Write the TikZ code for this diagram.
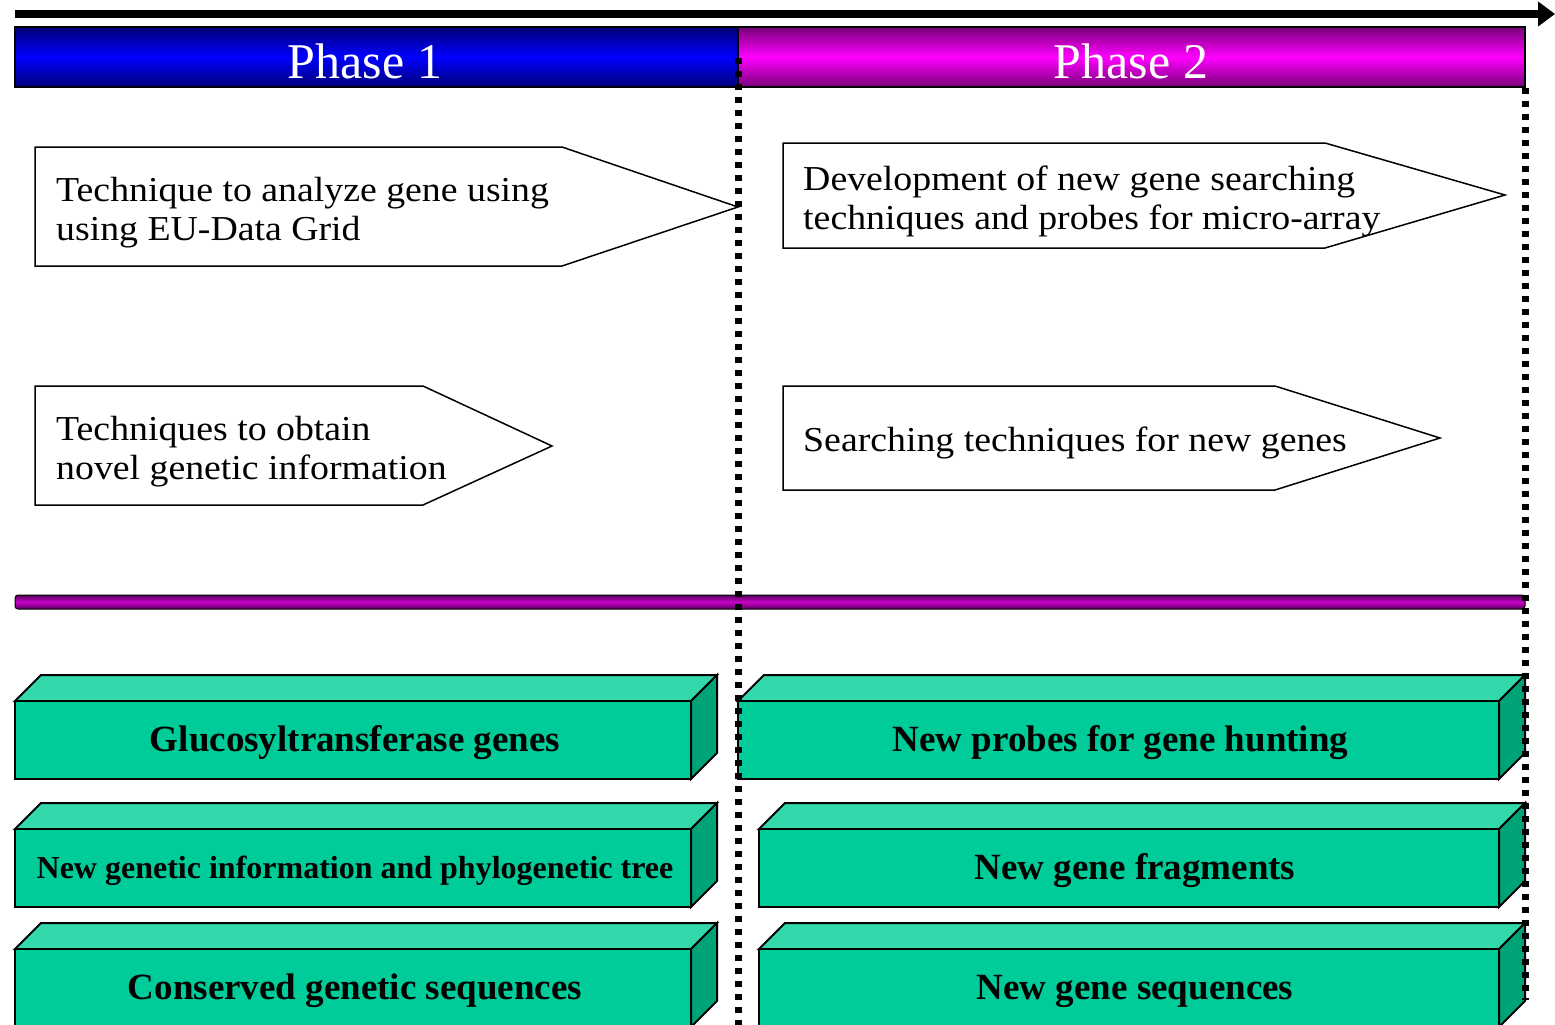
\documentclass[tikz,border=0pt]{standalone}
\usepackage{fontspec}
\setmainfont{Liberation Serif}
\newfontfamily\widefont[FakeStretch=1.08]{Liberation Serif}
\usetikzlibrary{arrows.meta}
\definecolor{frontgreen}{RGB}{0,204,153}
\definecolor{topgreen}{RGB}{51,217,173}
\definecolor{sidegreen}{RGB}{0,163,120}
\definecolor{navyedge}{RGB}{0,0,120}
\definecolor{plumedge}{RGB}{120,0,120}
\definecolor{plumline}{RGB}{200,0,200}
\definecolor{plumdark}{RGB}{90,0,90}
\tikzset{
  phasebar/.style={draw=black, line width=1.5},
  phaselabel/.style={text=white, font=\fontsize{50}{54}\selectfont, inner sep=0},
  arrowbox/.style={draw=black, line width=1.5, fill=white},
  boxtext/.style={anchor=west, align=left, inner sep=0, font=\widefont\fontsize{35}{39}\selectfont},
  greentext/.style={inner sep=0, font=\fontsize{37}{40}\selectfont\bfseries},
  greensmall/.style={inner sep=0, font=\fontsize{32}{36}\selectfont\bfseries},
  faceline/.style={draw=black, line width=2, line join=miter},
  phasesep/.style={line width=7, dash pattern=on 6 off 7},
}
% a green prism: front face (x1,y1)-(x2,y2), depth 26; label at an offset (#5,#6)
\newcommand\prismbox[7]{%
  \path[faceline, fill=topgreen] (#1,#2) -- ++(26,-26) -- (#3+26,#2-26) -- (#3,#2) -- cycle;
  \path[faceline, fill=sidegreen] (#3,#2) -- (#3+26,#2-26) -- (#3+26,#4-26) -- (#3,#4) -- cycle;
  \path[faceline, fill=frontgreen] (#1,#2) rectangle (#3,#4);
  \node[#7] at ({(#1+#3)/2+#5},{(#2+#4)/2+#6})}
\begin{document}
\begin{tikzpicture}[x=1pt,y=-1pt]
\useasboundingbox (0,0) rectangle (1555,1025);
\clip (0,0) rectangle (1555,1025);

% time axis
\coordinate (tstart) at (15,14);
\coordinate (tend) at (1555,14);
\draw[line width=7.5, -{Triangle[length=17,width=24]}] (tstart) -- (tend);

% phase bars
\path[phasebar, top color=navyedge, bottom color=navyedge, middle color=blue] (15,27) rectangle (738,87);
\path[phasebar, top color=plumedge, bottom color=plumedge, middle color=magenta] (738,27) rectangle (1525,87);
\node[phaselabel] (ph1) at (365,61) {Phase 1};
\node[phaselabel] (ph2) at (1131,61) {Phase 2};

% technique arrows
\path[arrowbox] (35,147) -- (562,147) -- (738,207) -- (562,266) -- (35,266) -- cycle;
\node[boxtext] (t1) at (56,213) {Technique to analyze gene using\\using EU-Data Grid};
\path[arrowbox] (35,386) -- (423,386) -- (552,446) -- (423,505) -- (35,505) -- cycle;
\node[boxtext] (t2) at (56,452) {Techniques to obtain\\novel genetic information};
\path[arrowbox] (783,143) -- (1325,143) -- (1505,195) -- (1325,248) -- (783,248) -- cycle;
\node[boxtext] (t3) at (803,201) {Development of new gene searching\\techniques and probes for micro-array};
\path[arrowbox] (783,386) -- (1275,386) -- (1440,438) -- (1275,490) -- (783,490) -- cycle;
\node[boxtext] (t4) at (803,443) {Searching techniques for new genes};

% divider
\path[draw=black, line width=1, top color=plumdark, bottom color=plumdark, middle color=plumline, rounded corners=3] (15,595) rectangle (1525,609);

% results
\prismbox{15}{701}{691}{779}{2}{3}{greentext} (r1) {Glucosyltransferase genes};
\prismbox{15}{829}{691}{907}{2}{3}{greensmall} (r2) {New genetic information and phylogenetic tree};
\prismbox{15}{949}{691}{1027}{2}{3}{greentext} (r3) {Conserved genetic sequences};
\prismbox{738}{701}{1499}{779}{2}{3}{greentext} (r4) {New probes for gene hunting};
\prismbox{759}{829}{1499}{907}{6}{3}{greentext} (r5) {New gene fragments};
\prismbox{759}{949}{1499}{1027}{6}{3}{greentext} (r6) {New gene sequences};

% phase boundaries
\coordinate (s1a) at (738,58);
\coordinate (s1b) at (738,1025);
\coordinate (s2a) at (1525,88);
\coordinate (s2b) at (1525,1000);
\draw[phasesep] (s1a) -- (s1b);
\draw[phasesep] (s2a) -- (s2b);
\end{tikzpicture}
\end{document}
